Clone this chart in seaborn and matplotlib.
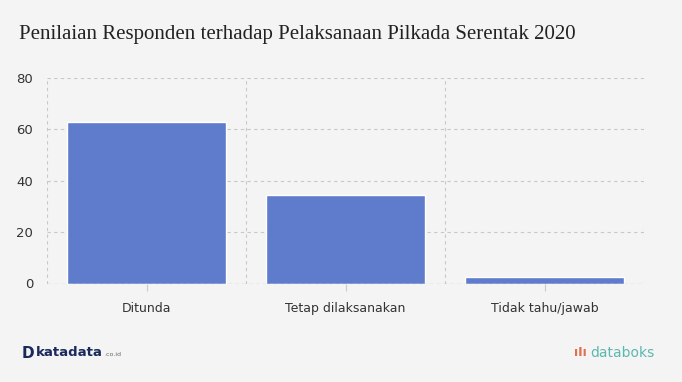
import matplotlib
matplotlib.use("Agg")
import matplotlib.pyplot as plt
import seaborn as sns
import pandas as pd

categories = ["Ditunda", "Tetap dilaksanakan", "Tidak tahu/jawab"]
values = [62.8, 34.5, 2.7]
yticks = [0, 20, 40, 60, 80]
title = "Penilaian Responden terhadap Pelaksanaan Pilkada Serentak 2020"

sns.set_theme(style="white")
plt.rcParams['font.family'] = ['DejaVu Sans']

bg = "#F4F4F4"
fig = plt.figure(figsize=(6.82, 3.82), dpi=100, facecolor=bg)
ax = fig.add_axes([47/682, (382-283.5)/382, (644-47)/682, (283.5-78)/382])
ax.set_facecolor(bg)

df = pd.DataFrame({"cat": categories, "val": values})
sns.barplot(data=df, x="cat", y="val", color="#5F7BCB", saturation=1, width=0.8, ax=ax)

ax.set_xlim(-0.5, 2.5)
ax.set_ylim(0, 80)
ax.set_yticks(yticks)
ax.set_xlabel("")
ax.set_ylabel("")

for y in yticks[1:]:
    ax.axhline(y, color="#C8C8C8", lw=0.8, ls=(0, (3, 3)), zorder=0)
for x in [-0.5, 0.5, 1.5, 2.5]:
    ax.axvline(x, color="#C8C8C8", lw=0.8, ls=(0, (3, 3)), zorder=0)
ax.axhline(0, color="#C8C8C8", lw=1.0, ls=(0, (3, 2)), zorder=3)

for s in ax.spines.values():
    s.set_visible(False)

ax.tick_params(axis="x", length=5, color="#CCCCCC", width=0.8, labelsize=9, labelcolor="#333333", pad=8, direction="out", bottom=True)
ax.tick_params(axis="y", length=0, labelsize=9.5, labelcolor="#333333", pad=10)

fig.text(19/682, 1 - 35/382, title, family="Liberation Serif", fontsize=15, color="#222222", va="center", ha="left")

# footer logos as text
fig.text(22/682, 1 - 353/382, "D", fontsize=11, fontweight="bold", color="#1B2A5C", va="center", ha="left")
fig.text(36/682, 1 - 353/382, "katadata", fontsize=9.5, fontweight="bold", color="#1B2A5C", va="center", ha="left")
fig.text(104/682, 1 - 355/382, ".co.id", fontsize=4.5, color="#666666", va="center", ha="left")
fig.text(580/682, 1 - 353/382, "ıIı", fontsize=9, fontweight="bold", color="#E07050", va="center", ha="center")
fig.text(590/682, 1 - 353/382, "databoks", fontsize=10, color="#5BB8B0", va="center", ha="left")

fig.savefig("out.png", dpi=100, facecolor=bg)
